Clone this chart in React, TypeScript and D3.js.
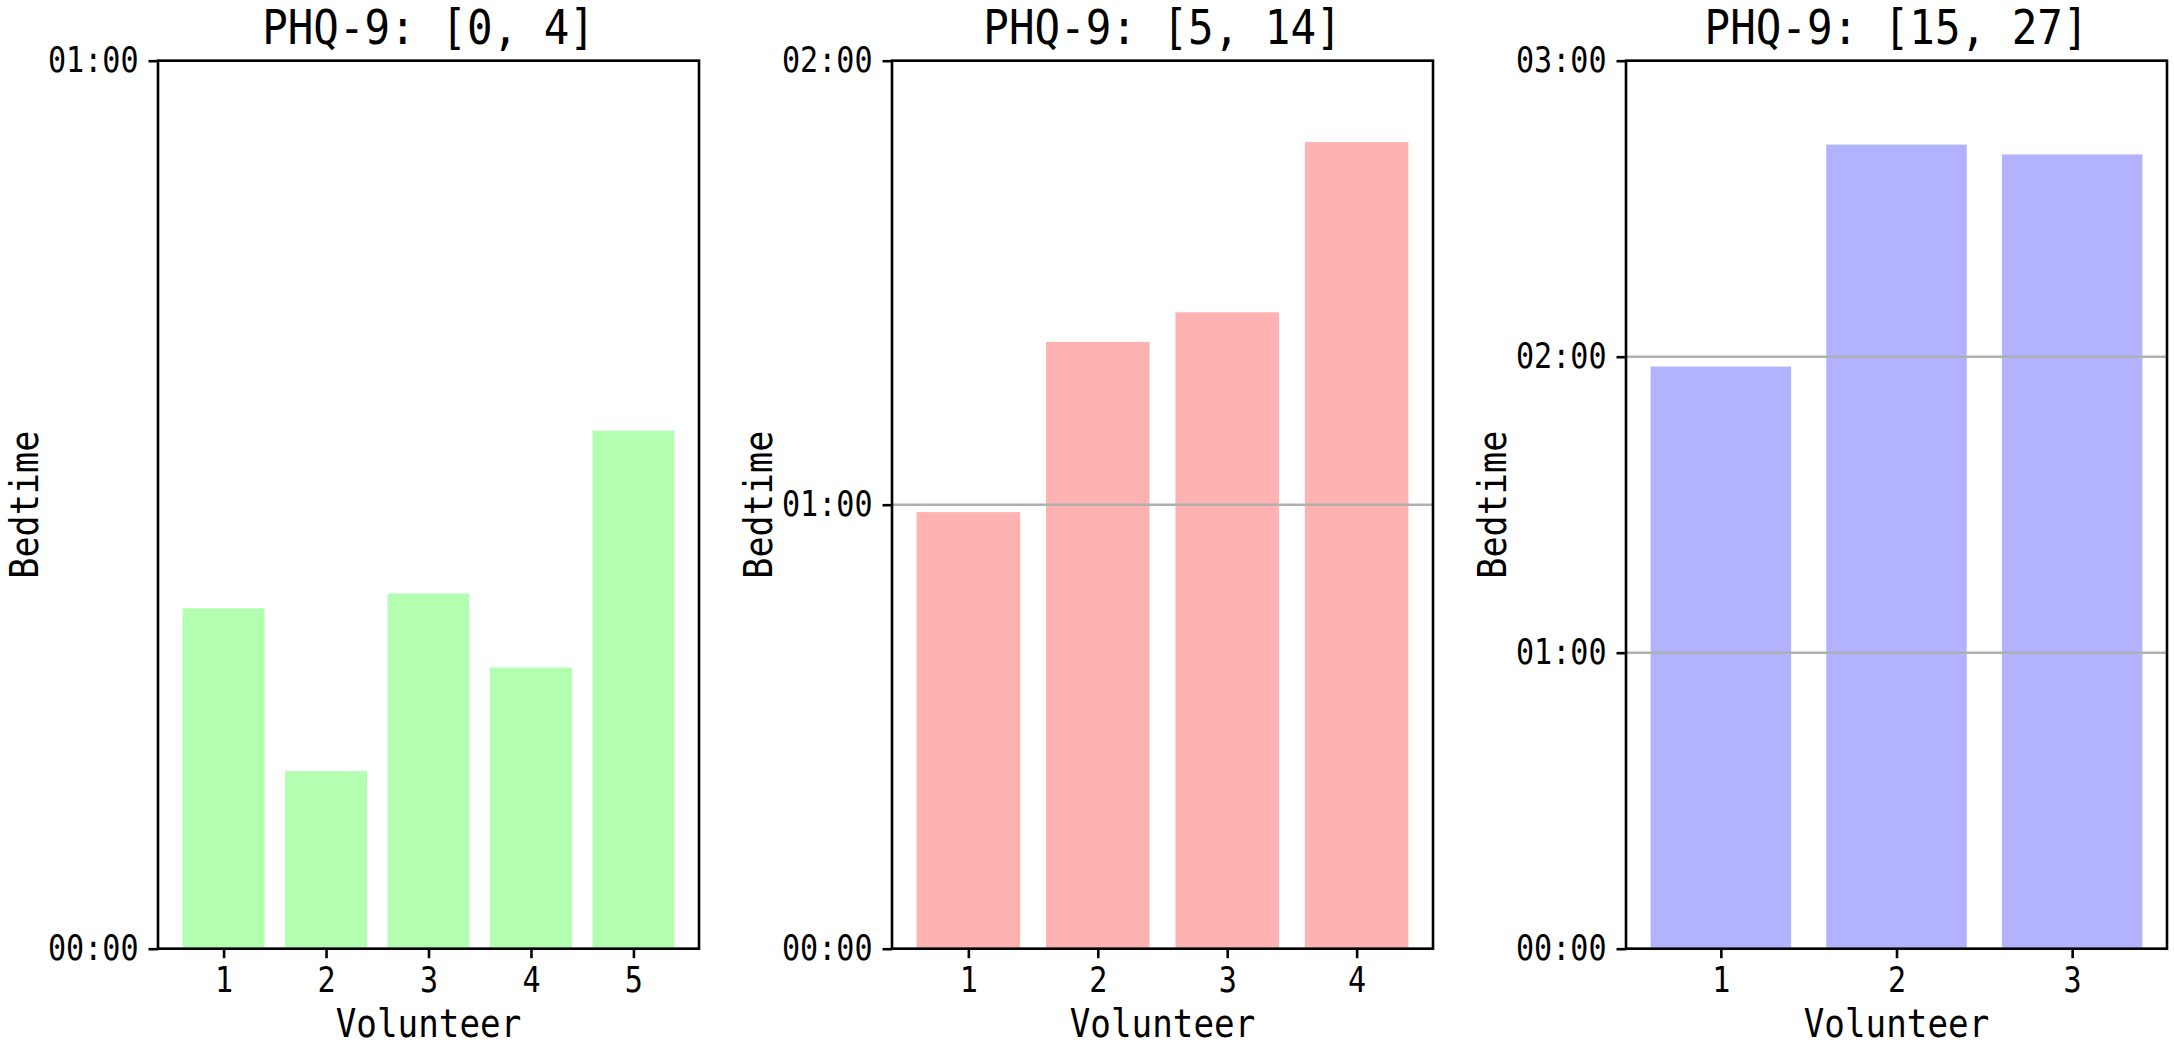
import React, { useRef, useEffect } from 'react';
import * as d3 from 'd3';

// Bedtime per volunteer, in minutes after midnight
const titles = ['PHQ-9: [0, 4]', 'PHQ-9: [5, 14]', 'PHQ-9: [15, 27]'];
const lowScoreBedtime = [23, 12, 24, 19, 35];
const midScoreBedtime = [59, 82, 86, 109];
const highScoreBedtime = [118, 163, 161];
const yMaxMinutes = [60, 120, 180];
const barColors = ['#00ff00', '#ff0000', '#0000ff'];

const groups = [lowScoreBedtime, midScoreBedtime, highScoreBedtime];

const fmtTime = (m: number) =>
  `${String(Math.floor(m / 60)).padStart(2, '0')}:${String(m % 60).padStart(2, '0')}`;

const App: React.FC = () => {
  const svgRef = useRef<SVGSVGElement>(null);

  useEffect(() => {
    if (!svgRef.current) return;
    const svg = d3.select(svgRef.current);
    svg.selectAll('*').remove();

    const width = 2174;
    const height = 1046;
    const font = "'DejaVu Sans Mono', monospace";
    const squeeze = 0.86; // narrow the mono glyphs to look like the original font
    const top = 60.7;
    const bottom = 948.7;
    const panelW = 541;
    const step = 734;
    const firstLeft = 158;
    const tickLen = 9.5;
    const tickPad = 9;

    svg.attr('width', width).attr('height', height);
    svg.append('rect').attr('width', width).attr('height', height).attr('fill', '#fff');

    groups.forEach((values, gi) => {
      const left = firstLeft + gi * step;
      const n = values.length;
      const pad = 0.05 * (n - 0.2);
      const x = d3.scaleLinear().domain([0.6 - pad, n + 0.4 + pad]).range([0, panelW]);
      const y = d3.scaleLinear().domain([0, yMaxMinutes[gi]]).range([bottom - top, 0]);
      const ticks = d3.range(0, yMaxMinutes[gi] + 1, 60);

      const g = svg.append('g').attr('transform', `translate(${left},${top})`);

      g.selectAll('rect.bar')
        .data(values)
        .enter()
        .append('rect')
        .attr('x', (_, i) => x(i + 1 - 0.4))
        .attr('width', x(1.4) - x(0.6))
        .attr('y', d => y(d))
        .attr('height', d => y(0) - y(d))
        .attr('fill', barColors[gi])
        .attr('fill-opacity', 0.3);

      // grid sits above the bars, like matplotlib's default
      g.selectAll('line.grid')
        .data(ticks)
        .enter()
        .append('line')
        .attr('x1', 0)
        .attr('x2', panelW)
        .attr('y1', d => y(d))
        .attr('y2', d => y(d))
        .attr('stroke', '#b0b0b0')
        .attr('stroke-width', 2.4);

      // frame
      g.append('rect')
        .attr('width', panelW)
        .attr('height', bottom - top)
        .attr('fill', 'none')
        .attr('stroke', '#000')
        .attr('stroke-width', 2.6);

      // y axis
      const yAxis = g.append('g')
        .call(d3.axisLeft(y).tickValues(ticks).tickFormat(d => fmtTime(+d)).tickSize(tickLen).tickPadding(tickPad + 1));
      yAxis.select('.domain').remove();
      yAxis.selectAll('line').attr('stroke-width', 2.6);
      yAxis.selectAll('text')
        .attr('font-family', font)
        .attr('font-size', 35)
        .attr('fill', '#000')
        .attr('x', -(tickLen + tickPad + 1) / squeeze)
        .attr('transform', `scale(${squeeze},1)`);

      // x axis
      const xAxis = g.append('g')
        .attr('transform', `translate(0,${bottom - top})`)
        .call(d3.axisBottom(x).tickValues(d3.range(1, n + 1)).tickFormat(d3.format('d')).tickSize(tickLen).tickPadding(tickPad));
      xAxis.select('.domain').remove();
      xAxis.selectAll('line').attr('stroke-width', 2.6);
      xAxis.selectAll('text')
        .attr('font-family', font)
        .attr('font-size', 35)
        .attr('fill', '#000')
        .attr('transform', `scale(${squeeze},1)`);

      // title
      g.append('text')
        .attr('transform', `translate(${panelW / 2},${44 - top}) scale(0.886,1)`)
        .attr('text-anchor', 'middle')
        .attr('font-family', font)
        .attr('font-size', 48)
        .text(titles[gi]);

      // x label
      g.append('text')
        .attr('transform', `translate(${panelW / 2},${1037 - top}) scale(0.878,1)`)
        .attr('text-anchor', 'middle')
        .attr('font-family', font)
        .attr('font-size', 39)
        .text('Volunteer');

      // y label
      g.append('text')
        .attr('transform', `translate(${37.5 - firstLeft},${(bottom - top) / 2}) rotate(-90) scale(0.9,1)`)
        .attr('text-anchor', 'middle')
        .attr('font-family', font)
        .attr('font-size', 39)
        .text('Bedtime');
    });
  }, []);

  return <svg ref={svgRef} style={{ position: 'absolute', left: 0, top: 0 }}></svg>;
};

export default App;
